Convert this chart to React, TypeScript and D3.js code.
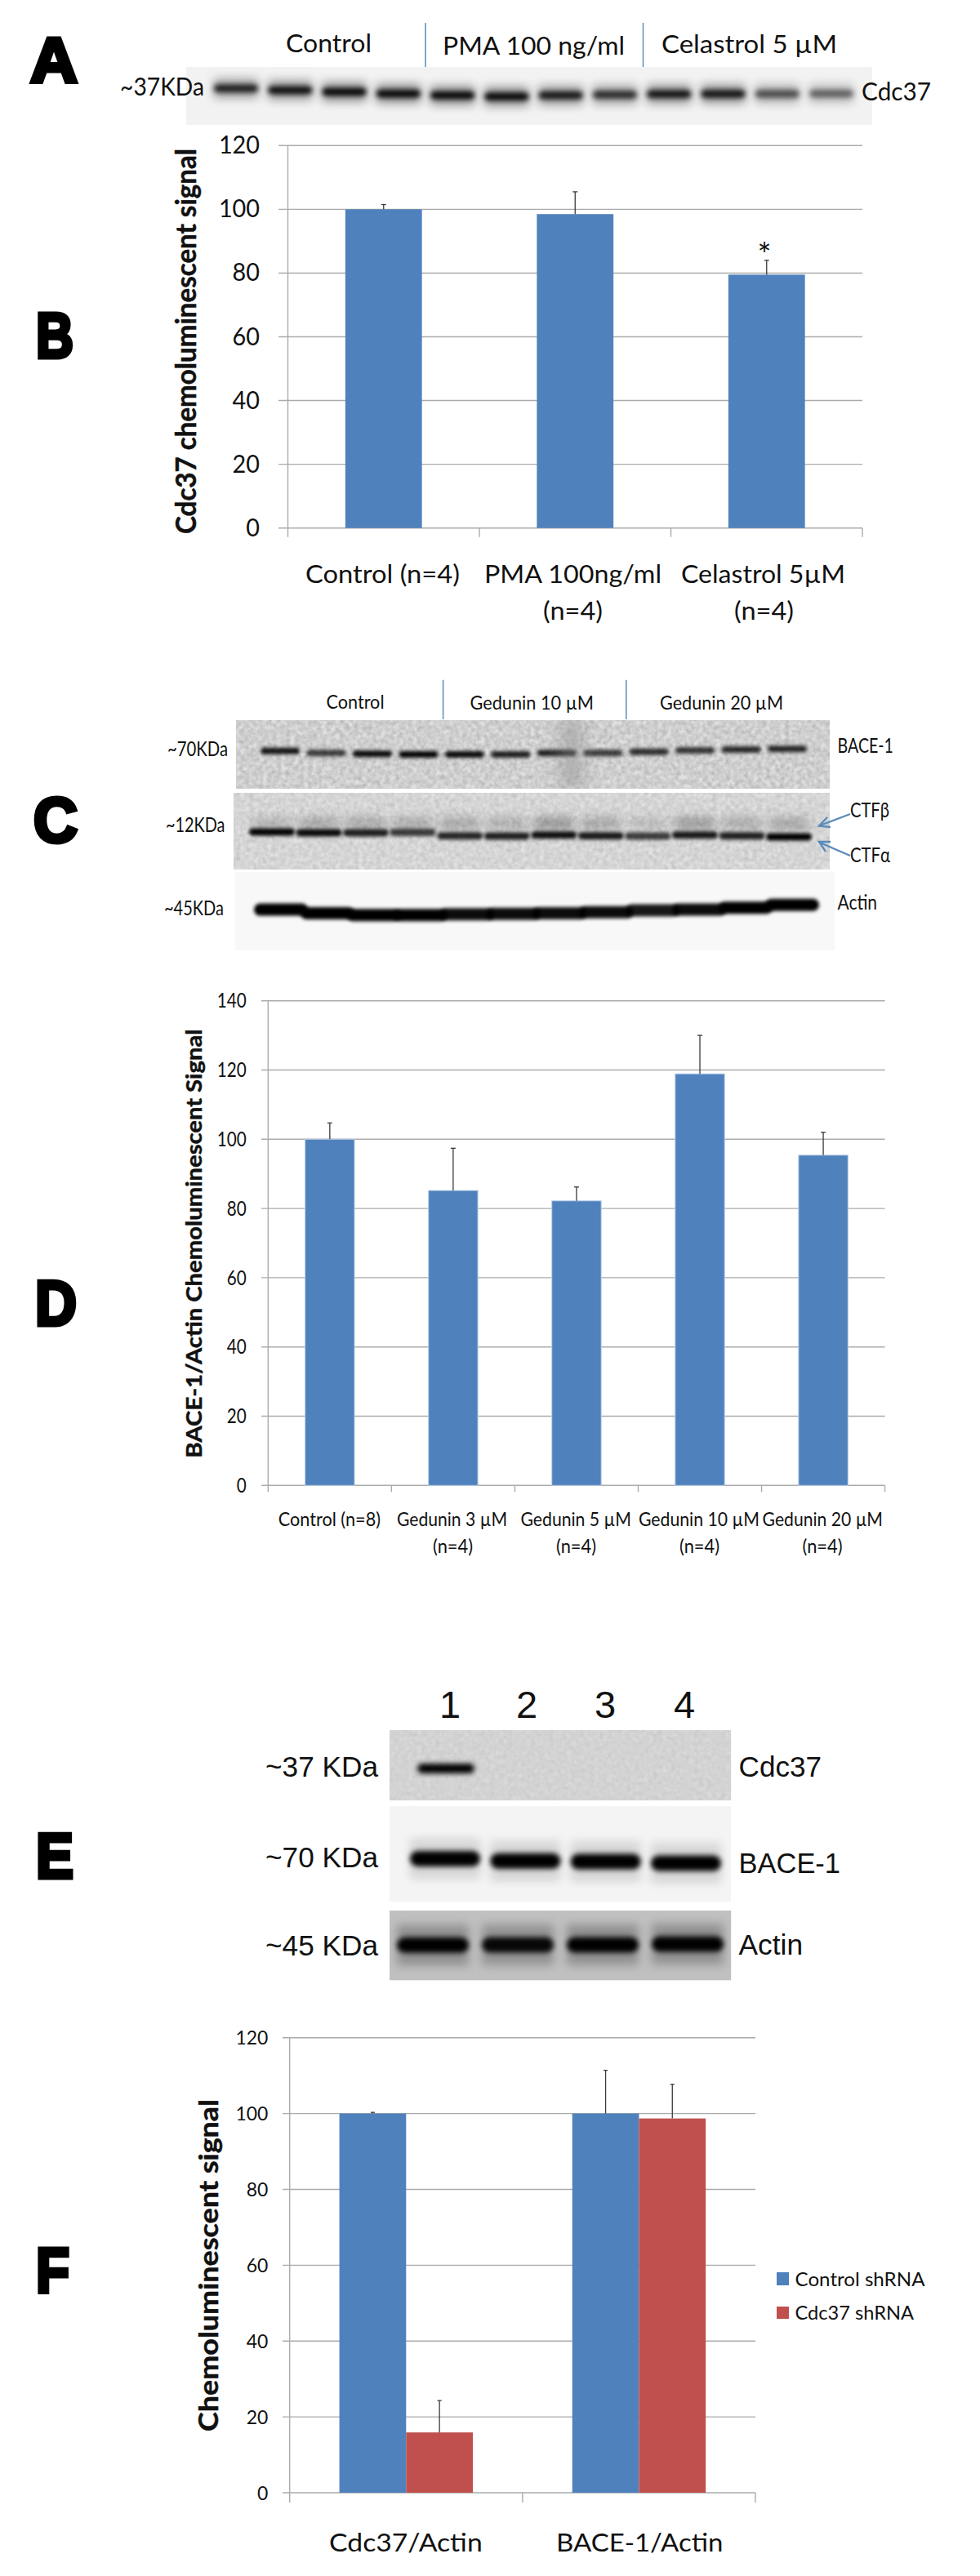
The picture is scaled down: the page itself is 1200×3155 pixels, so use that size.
import React from "react";
import * as d3 from "d3";

// ---------- bar chart data ----------
const catsB = ["Control", "PMA", "Celastrol"];
const valsB = [100, 98.5, 79.5];
const errTopB = [101.5, 105.5, 84];
const ticksB = [0, 20, 40, 60, 80, 100, 120];

const catsD = ["Control", "G3", "G5", "G10", "G20"];
const valsD = [100, 85.2, 82.2, 118.9, 95.4];
const errTopD = [104.7, 97.4, 86.2, 130, 102];
const ticksD = [0, 20, 40, 60, 80, 100, 120, 140];

const catsF = ["Cdc37/Actin", "BACE-1/Actin"];
const seriesF = ["Control shRNA", "Cdc37 shRNA"];
const valsFControl = [100, 100];
const valsFKnock = [15.9, 98.7];
const errFControl = [100.3, 111.4];
const errFKnock = [24.3, 107.7];
const ticksF = [0, 20, 40, 60, 80, 100, 120];

// ---------- western blot data (migration % of panel height, band strength 0..1) ----------
const lanes12 = d3.range(12);
const lanes4 = d3.range(4);
const migA = [37, 40, 43, 46, 49, 51, 49, 48, 47, 46.5, 46.5, 46];
const strA = [0.85, 0.95, 1, 1, 1, 1, 0.9, 0.78, 0.92, 0.92, 0.62, 0.52];
const migC1 = [45, 48, 49, 50, 50, 50, 48, 48, 46, 44, 43, 42];
const strC1 = [0.9, 0.72, 0.95, 0.98, 0.95, 0.85, 0.85, 0.72, 0.78, 0.75, 0.8, 0.82];
const migC2 = [51, 52, 52, 51.5, 56, 56.4, 55, 56, 56.4, 55, 56, 57.5];
const strC2 = [0.98, 0.95, 0.85, 0.72, 0.82, 0.85, 0.92, 0.88, 0.72, 0.88, 0.85, 1];
const faintC2 = [0.16, 0.22, 0.22, 0.2, 0.22, 0.18, 0.3, 0.22, 0.12, 0.28, 0.2, 0.22];
const migC3 = [48, 52.5, 55, 55, 54, 53.5, 52.5, 51.4, 49, 48, 45.5, 42];
const strC3 = [1, 1, 1, 1, 0.95, 0.95, 0.95, 0.95, 0.9, 0.95, 1, 1];
const migE1 = [54.5, 54.5, 54.5, 54.5];
const strE1 = [1, 0, 0, 0];
const migE2 = [55, 57.4, 58, 59.6];
const strE2 = [1, 1, 1, 1];
const migE3 = [49.5, 49, 49, 48];
const strE3 = [1, 0.95, 1, 1];

const BLUE = "#4f81bd";
const RED = "#c0504d";
const GRID = "#ababab";
const LINE = "#5b8cbc";
const SANS = "Lato, 'Open Sans', sans-serif";
const ARIAL = "'Liberation Sans', Arial, sans-serif";

type TProps = { x: number; y: number; w?: number; s: number; bold?: boolean; font?: string; anchor?: string; children: React.ReactNode };
function T({ x, y, w, s, bold, font, anchor, children }: TProps) {
  return (
    <text x={x} y={y} fontSize={s} fontFamily={font || SANS} fontWeight={bold ? 700 : 400} fill="#111"
      textAnchor={anchor || "start"} textLength={w} lengthAdjust={w ? "spacingAndGlyphs" : undefined}>
      {children}
    </text>
  );
}

function Letter({ x, y, c, w }: { x: number; y: number; c: string; w: number }) {
  return (
    <text x={x} y={y} fontSize={78} fontFamily={ARIAL} fontWeight={700} fill="#000" stroke="#000" strokeWidth={5}
      strokeLinejoin="miter" textLength={w} lengthAdjust="spacingAndGlyphs">{c}</text>
  );
}

function YTitle({ x, cy, len, s, children }: { x: number; cy: number; len: number; s: number; children: string }) {
  return (
    <text transform={`translate(${x},${cy + len / 2}) rotate(-90)`} fontSize={s} fontFamily={SANS} fontWeight={700}
      fill="#111" stroke="#111" strokeWidth={0.5} textLength={len} lengthAdjust="spacingAndGlyphs">{children}</text>
  );
}

type BlotProps = {
  id: string; x0: number; x1: number; y0: number; y1: number; bg: string;
  lanes: number[]; laneFrom: number; laneTo: number; mig: number[]; str: number[];
  bandW: number; bandH: number; blur: number; halo?: number; noise?: number;
};
function Blot({ id, x0, x1, y0, y1, bg, lanes, laneFrom, laneTo, mig, str, bandW, bandH, blur, halo = 0, noise = 0 }: BlotProps) {
  const lx = d3.scalePoint<number>().domain(lanes).range([laneFrom, laneTo]);
  const ly = d3.scaleLinear().domain([0, 100]).range([y0, y1]);
  return (
    <g clipPath={`url(#${id})`}>
      <clipPath id={id}><rect x={x0} y={y0} width={x1 - x0} height={y1 - y0} /></clipPath>
      <rect x={x0} y={y0} width={x1 - x0} height={y1 - y0} fill={bg} />
      {noise > 0 && <rect x={x0} y={y0} width={x1 - x0} height={y1 - y0} filter="url(#grain)" opacity={noise} />}
      {lanes.map((l) => str[l] > 0 && (
        <g key={l}>
          {halo > 0 && (
            <rect x={lx(l)! - bandW / 2} y={ly(mig[l]) - bandH * 1.3} width={bandW} height={bandH * 2.6}
              fill="#000" opacity={halo * str[l]} filter="url(#blurWide)" />
          )}
          <rect x={lx(l)! - bandW / 2} y={ly(mig[l]) - bandH / 2} width={bandW} height={bandH} rx={bandH / 2}
            fill="#000" opacity={str[l]} filter={`url(#blur${blur})`} />
        </g>
      ))}
    </g>
  );
}

function Axes({ x, y, ticks, tickLeft, labelRight, tickOffset, fs, charW, tickDown, catEdges }: any) {
  const [bottom] = y.range();
  const top = y(ticks[ticks.length - 1]);
  return (
    <g>
      {ticks.map((t: number) => {
        const w = String(t).length * charW;
        return (
          <g key={t}>
            <line x1={tickLeft} x2={x[1]} y1={y(t)} y2={y(t)} stroke={GRID} strokeWidth={1.4} />
            <T x={labelRight - w} y={y(t) + tickOffset} s={fs} w={w}>{t}</T>
          </g>
        );
      })}
      <line x1={x[0]} x2={x[0]} y1={top} y2={bottom + tickDown} stroke={GRID} strokeWidth={1.4} />
      {catEdges.map((e: number) => (
        <line key={e} x1={e} x2={e} y1={bottom} y2={bottom + tickDown} stroke={GRID} strokeWidth={1.4} />
      ))}
    </g>
  );
}

function ErrBar({ x, y0, y1, cap = 3 }: { x: number; y0: number; y1: number; cap?: number }) {
  return (
    <g stroke="#3a3a3a" strokeWidth={1.3}>
      <line x1={x} x2={x} y1={y0} y2={y1} />
      <line x1={x - cap} x2={x + cap} y1={y1} y2={y1} />
    </g>
  );
}

function SingleBars({ cats, vals, errs, y, x0, x1, stroke }: any) {
  const x = d3.scaleBand<string>().domain(cats).range([x0, x1]).paddingInner(0.6).paddingOuter(0.3);
  return (
    <g>
      {cats.map((c: string, i: number) => (
        <g key={c}>
          <rect x={x(c)} y={y(vals[i])} width={x.bandwidth()} height={y(0) - y(vals[i])} fill={BLUE} stroke={stroke} strokeWidth={stroke ? 1 : 0} />
          <ErrBar x={x(c)! + x.bandwidth() / 2} y0={y(vals[i])} y1={y(errs[i])} />
        </g>
      ))}
    </g>
  );
}

export default function App() {
  // B
  const yB = d3.scaleLinear().domain([0, 120]).range([646.7, 178.3]);
  const xB: [number, number] = [352.5, 1056];
  const edgesB = d3.range(1, 4).map((i) => xB[0] + (i * (xB[1] - xB[0])) / 3);
  // D
  const yD = d3.scaleLinear().domain([0, 140]).range([1819.3, 1225.7]);
  const xD: [number, number] = [328.3, 1083.6];
  const edgesD = d3.range(1, 6).map((i) => xD[0] + (i * (xD[1] - xD[0])) / 5);
  // F
  const yF = d3.scaleLinear().domain([0, 120]).range([3053, 2495.7]);
  const xF: [number, number] = [354.7, 925];
  const edgesF = d3.range(1, 3).map((i) => xF[0] + (i * (xF[1] - xF[0])) / 2);
  const x0F = d3.scaleBand<string>().domain(catsF).range(xF).paddingInner(0.427).paddingOuter(0.2135);
  const x1F = d3.scaleBand<string>().domain(seriesF).range([0, x0F.bandwidth()]);

  return (
    <svg width={1200} height={3155} viewBox="0 0 1200 3155" style={{ position: "absolute", left: 0, top: 0, display: "block", background: "#fff" }}>
      <defs>
        <filter id="blur2" x="-30%" y="-200%" width="160%" height="500%"><feGaussianBlur stdDeviation="2" /></filter>
        <filter id="blur3" x="-30%" y="-200%" width="160%" height="500%"><feGaussianBlur stdDeviation="3" /></filter>
        <filter id="blurWide" x="-30%" y="-200%" width="160%" height="500%"><feGaussianBlur stdDeviation="6" /></filter>
        <filter id="blurSmudge" x="-60%" y="-10%" width="220%" height="120%"><feGaussianBlur stdDeviation="10" /></filter>
        <filter id="grain" x="0" y="0" width="100%" height="100%">
          <feTurbulence type="fractalNoise" baseFrequency="0.18" numOctaves="2" seed="7" />
          <feColorMatrix type="matrix" values="0 0 0 0 0  0 0 0 0 0  0 0 0 0 0  0.9 0.9 0 0 -0.55" />
        </filter>
      </defs>

      {/* A */}
      <Letter x={37} y={101} c="A" w={58} />
      <T x={350} y={64} w={105} s={31}>Control</T>
      <T x={542} y={67} w={223} s={31}>PMA 100 ng/ml</T>
      <T x={810} y={65} w={215} s={31}>Celastrol  5 µM</T>
      <line x1={521} x2={521} y1={28} y2={82} stroke={LINE} strokeWidth={1.5} />
      <line x1={787.5} x2={787.5} y1={28} y2={82} stroke={LINE} strokeWidth={1.5} />
      <Blot id="pA" x0={228} x1={1068} y0={82} y1={153} bg="#f2f2f2" lanes={lanes12} laneFrom={289} laneTo={1018}
        mig={migA} str={strA} bandW={54} bandH={9} blur={3} halo={0.4} />
      <T x={147} y={116.7} w={103} s={30}>~37KDa</T>
      <T x={1055} y={123} w={85} s={30}>Cdc37</T>

      {/* B */}
      <Letter x={44} y={438} c="B" w={46} />
      <YTitle x={240} cy={418} len={472} s={34}>Cdc37 chemoluminescent signal</YTitle>
      <Axes x={xB} y={yB} ticks={ticksB} tickLeft={341} labelRight={318} tickOffset={10} fs={31} charW={16.7} tickDown={11} catEdges={edgesB} />
      <SingleBars cats={catsB} vals={valsB} errs={errTopB} y={yB} x0={xB[0]} x1={xB[1]} />
      <T x={936} y={327} s={40} anchor="middle">*</T>
      <T x={374} y={714} w={189} s={31}>Control (n=4)</T>
      <T x={593} y={714} w={217} s={31}>PMA 100ng/ml</T>
      <T x={834} y={714} w={201} s={31}>Celastrol 5µM</T>
      <T x={665} y={759} w={73} s={31}>(n=4)</T>
      <T x={899} y={759} w={73} s={31}>(n=4)</T>

      {/* C */}
      <Letter x={41} y={1031} c="C" w={54} />
      <T x={399.5} y={868} w={71} s={24}>Control</T>
      <T x={575.5} y={869} w={151.5} s={24}>Gedunin 10 µM</T>
      <T x={808} y={869} w={151} s={24}>Gedunin 20 µM</T>
      <line x1={542.6} x2={542.6} y1={832.7} y2={881} stroke={LINE} strokeWidth={1.5} />
      <line x1={766.8} x2={766.8} y1={832.7} y2={881} stroke={LINE} strokeWidth={1.5} />
      <Blot id="pC1" x0={289} x1={1016} y0={882} y1={966} bg="#e0e0e0" lanes={lanes12} laneFrom={343} laneTo={964}
        mig={migC1} str={strC1} bandW={48} bandH={8} blur={2} noise={0.22} />
      <rect x={685} y={880} width={30} height={88} fill="#8a8a8a" opacity={0.45} filter="url(#blurSmudge)" clipPath="url(#pC1)" />
      <Blot id="pC2" x0={286} x1={1016} y0={971} y1={1065} bg="#e1e1e1" lanes={lanes12} laneFrom={333} laneTo={966}
        mig={migC2} str={strC2} bandW={56} bandH={9} blur={2} noise={0.15} />
      <g clipPath="url(#pC2)">
        {lanes12.map((l) => (
          <rect key={l} x={d3.scalePoint<number>().domain(lanes12).range([333, 966])(l)! - 24} y={1001} width={48} height={15}
            fill="#000" opacity={faintC2[l]} filter="url(#blurWide)" />
        ))}
      </g>
      <Blot id="pC3" x0={288} x1={1022} y0={1068} y1={1164} bg="#f8f8f8" lanes={lanes12} laneFrom={344} laneTo={970}
        mig={migC3} str={strC3} bandW={66} bandH={15} blur={2} />
      <T x={205} y={926} w={74} s={25}>~70KDa</T>
      <T x={203} y={1019} w={72.5} s={25}>~12KDa</T>
      <T x={201} y={1121} w={73} s={25}>~45KDa</T>
      <T x={1025.5} y={921.7} w={68.5} s={25}>BACE-1</T>
      <T x={1025.5} y={1114} w={48.5} s={25}>Actin</T>
      <T x={1041} y={1001} w={48} s={25}>CTFβ</T>
      <T x={1041} y={1055.7} w={49} s={25}>CTFα</T>
      <g stroke={LINE} strokeWidth={2.4} fill="none">
        <path d="M1041 997L1004 1011M1013 1001L1003 1011.5L1017 1013" />
        <path d="M1041 1048L1004 1032M1017 1031L1003 1031L1011 1043" />
      </g>

      {/* D */}
      <Letter x={43} y={1623} c="D" w={51} />
      <YTitle x={247} cy={1523} len={525} s={27}>BACE-1/Actin Chemoluminescent Signal</YTitle>
      <Axes x={xD} y={yD} ticks={ticksD} tickLeft={320} labelRight={301.7} tickOffset={8.6} fs={25} charW={12} tickDown={8} catEdges={edgesD} />
      <SingleBars cats={catsD} vals={valsD} errs={errTopD} y={yD} x0={xD[0]} x1={xD[1]} stroke="#bcd0e8" />
      <T x={340.7} y={1869} w={125.3} s={24}>Control (n=8)</T>
      <T x={486} y={1869} w={135} s={24}>Gedunin 3 µM</T>
      <T x={637.5} y={1869} w={135.5} s={24}>Gedunin 5 µM</T>
      <T x={782} y={1869} w={148} s={24}>Gedunin 10 µM</T>
      <T x={933.6} y={1869} w={147.4} s={24}>Gedunin 20 µM</T>
      {[554.5, 705.5, 856.5, 1007].map((cx) => (
        <T key={cx} x={cx - 24.5} y={1901.7} w={49} s={24}>(n=4)</T>
      ))}

      {/* E */}
      <Letter x={44} y={2300} c="E" w={46} />
      {["1", "2", "3", "4"].map((n, i) => (
        <T key={n} x={[551, 645, 741, 838][i]} y={2104} s={47} font={ARIAL} anchor="middle">{n}</T>
      ))}
      <Blot id="pE1" x0={477} x1={895.4} y0={2119} y1={2205.3} bg="#d9d9d9" lanes={lanes4} laneFrom={546} laneTo={842}
        mig={migE1} str={strE1} bandW={70} bandH={12} blur={3} noise={0.08} />
      <Blot id="pE2" x0={477} x1={895.4} y0={2212} y1={2329.3} bg="#f4f4f4" lanes={lanes4} laneFrom={545} laneTo={840}
        mig={migE2} str={strE2} bandW={86} bandH={19} blur={3} halo={0.12} />
      <Blot id="pE3" x0={477} x1={895.4} y0={2340} y1={2425.6} bg="#c0c0c0" lanes={lanes4} laneFrom={530} laneTo={842}
        mig={migE3} str={strE3} bandW={88} bandH={19} blur={3} halo={0.25} />
      <T x={325} y={2175.7} w={138} s={35} font={ARIAL}>~37 KDa</T>
      <T x={325} y={2286.7} w={138} s={35} font={ARIAL}>~70 KDa</T>
      <T x={325} y={2395} w={138} s={35} font={ARIAL}>~45 KDa</T>
      <T x={904.6} y={2175.7} w={101.4} s={35} font={ARIAL}>Cdc37</T>
      <T x={904.6} y={2294} w={124.4} s={35} font={ARIAL}>BACE-1</T>
      <T x={904.6} y={2394} w={78.4} s={35} font={ARIAL}>Actin</T>

      {/* F */}
      <Letter x={44} y={2808} c="F" w={41} />
      <YTitle x={267} cy={2774.5} len={407} s={33}>Chemoluminescent signal</YTitle>
      <Axes x={xF} y={yF} ticks={ticksF} tickLeft={346} labelRight={328.3} tickOffset={8.6} fs={24} charW={13.3} tickDown={12} catEdges={edgesF} />
      {catsF.map((c, i) => (
        <g key={c}>
          <rect x={x0F(c)! + x1F(seriesF[0])!} y={yF(valsFControl[i])} width={x1F.bandwidth()} height={yF(0) - yF(valsFControl[i])} fill={BLUE} />
          <rect x={x0F(c)! + x1F(seriesF[1])!} y={yF(valsFKnock[i])} width={x1F.bandwidth()} height={yF(0) - yF(valsFKnock[i])} fill={RED} />
          <ErrBar x={x0F(c)! + x1F(seriesF[0])! + x1F.bandwidth() / 2} y0={yF(valsFControl[i])} y1={yF(errFControl[i])} cap={2.5} />
          <ErrBar x={x0F(c)! + x1F(seriesF[1])! + x1F.bandwidth() / 2} y0={yF(valsFKnock[i])} y1={yF(errFKnock[i])} cap={2.5} />
        </g>
      ))}
      <T x={403} y={3125} w={187.7} s={31}>{catsF[0]}</T>
      <T x={681} y={3125} w={204.4} s={31}>{catsF[1]}</T>
      <rect x={951} y={2783} width={15} height={16} fill={BLUE} />
      <rect x={951} y={2825} width={15} height={15} fill={RED} />
      <T x={973.5} y={2800} w={159} s={24}>{seriesF[0]}</T>
      <T x={973.5} y={2841} w={145.5} s={24}>{seriesF[1]}</T>
    </svg>
  );
}
